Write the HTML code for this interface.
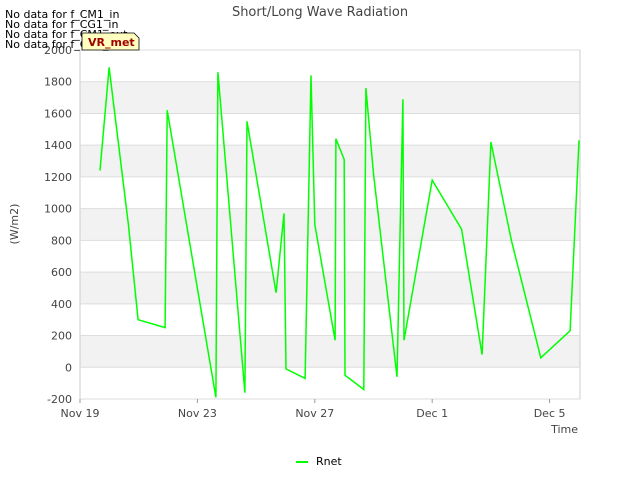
<!DOCTYPE html>
<html><head><meta charset="utf-8"><style>
body{margin:0;background:#fff;font-family:"DejaVu Sans","Liberation Sans",sans-serif;}
</style></head><body>
<svg width="640" height="480" xmlns="http://www.w3.org/2000/svg" font-family="DejaVu Sans, Liberation Sans, sans-serif">
<rect x="0" y="0" width="640" height="480" fill="#fff"/>
<g id="bands"></g>
<rect x="80" y="50" width="500" height="349" fill="none" stroke="#ccc"/>
<g id="yticks"></g>
<g id="xticks"></g>
<path id="line" fill="none" stroke="#00ff00" stroke-width="1.5"/>
<text x="320" y="16" text-anchor="middle" font-size="13" fill="#444">Short/Long Wave Radiation</text>
<text x="18" y="224" text-anchor="middle" font-size="11" fill="#444" transform="rotate(-90 18 224)">(W/m2)</text>
<text x="578" y="433" text-anchor="end" font-size="11" fill="#444">Time</text>
<g font-size="11" fill="#000">
<text x="5" y="18">No data for f_CM1_in</text>
<text x="5" y="28">No data for f_CG1_in</text>
<text x="5" y="38">No data for f_CM1_out</text>
<text x="5" y="48">No data for f_CG1_out</text>
</g>
<g>
<path d="M82,33 L134,33 L139,38 L139,50 L82,50 Z" fill="#ffffc0" stroke="#000" stroke-width="0.8"/>
<text x="88" y="46" font-size="11" font-weight="bold" fill="#a00000">VR_met</text>
</g>
<g>
<line x1="296" y1="462" x2="308" y2="462" stroke="#00ff00" stroke-width="2"/>
<text x="316" y="465" font-size="11" fill="#000">Rnet</text>
</g>
</svg>
<script>
const days=[0.68,0.99,1.65,1.98,2.9,2.97,4.63,4.7,5.62,5.69,6.68,6.95,7.02,7.67,7.87,8.0,8.69,8.72,9.0,9.03,9.67,9.74,10.0,10.8,11.0,11.04,12.0,13.0,13.7,14.0,14.7,15.7,16.7,17.0];
const rnet=[1240,1890,900,300,250,1620,-190,1860,-160,1550,470,970,-10,-70,1840,900,170,1440,1310,-50,-140,1760,1220,-60,1690,170,1180,870,80,1420,800,60,230,1430];
const yTicks=[-200,0,200,400,600,800,1000,1200,1400,1600,1800,2000];
const xTickDays=[0,4,8,12,16];
const xTickLabels=["Nov 19","Nov 23","Nov 27","Dec 1","Dec 5"];
const X=d=>80+d*29.35, Y=v=>399-(v+200)*349/2200;
const ns="http://www.w3.org/2000/svg";
const bands=document.getElementById('bands'),yt=document.getElementById('yticks'),xt=document.getElementById('xticks');
for(let v=0;v<2000;v+=400){const r=document.createElementNS(ns,'rect');


r.setAttribute('x',80);r.setAttribute('width',500);r.setAttribute('y',Y(v+200));r.setAttribute('height',Y(v)-Y(v+200));r.setAttribute('fill','#f2f2f2');bands.appendChild(r);}
yTicks.forEach(v=>{const l=document.createElementNS(ns,'line');


l.setAttribute('x1',80);l.setAttribute('x2',580);l.setAttribute('y1',Y(v));l.setAttribute('y2',Y(v));l.setAttribute('stroke','#ddd');yt.appendChild(l);
const t=document.createElementNS(ns,'text');


t.setAttribute('x',72);t.setAttribute('y',Y(v)+4);t.setAttribute('text-anchor','end');t.setAttribute('font-size','11');t.setAttribute('fill','#444');t.textContent=v;yt.appendChild(t);});
xTickDays.forEach((d,i)=>{const t=document.createElementNS(ns,'text');


t.setAttribute('x',X(d));t.setAttribute('y',417);t.setAttribute('text-anchor','middle');t.setAttribute('font-size','11');t.setAttribute('fill','#444');t.textContent=xTickLabels[i];xt.appendChild(t);
const l=document.createElementNS(ns,'line');


l.setAttribute('x1',X(d));l.setAttribute('x2',X(d));l.setAttribute('y1',399);l.setAttribute('y2',403);l.setAttribute('stroke','#999');xt.appendChild(l);});
document.getElementById('line').setAttribute('d',days.map((d,i)=>(i?'L':'M')+X(d).toFixed(1)+','+Y(rnet[i]).toFixed(1)).join(' '));
</script>
</body></html>
